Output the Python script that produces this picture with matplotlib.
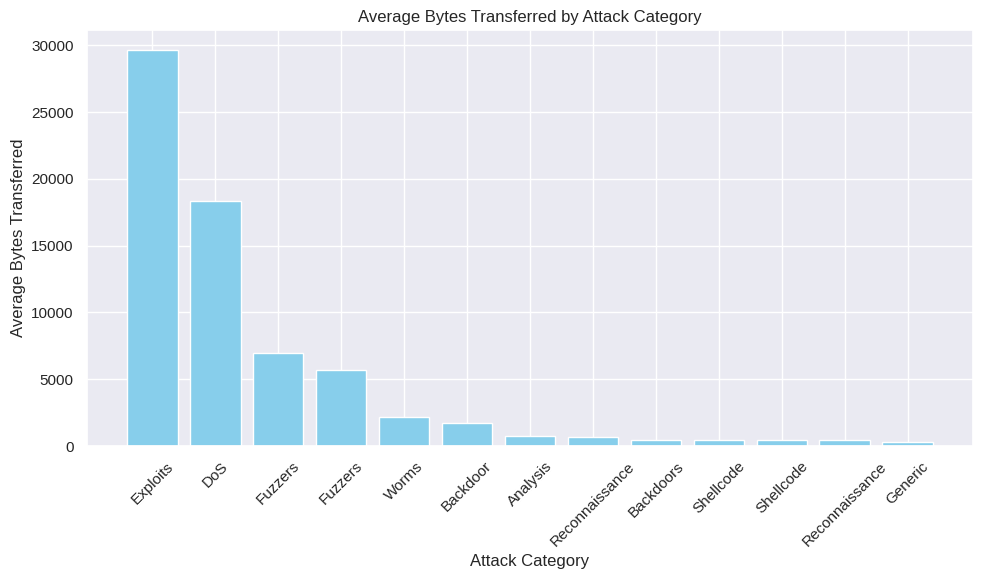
import matplotlib.pyplot as plt
import seaborn as sns

categories = ['Exploits', 'DoS', 'Fuzzers', 'Fuzzers', 'Worms', 'Backdoor', 'Analysis',
              'Reconnaissance', 'Backdoors', 'Shellcode', 'Shellcode', 'Reconnaissance', 'Generic']
avg_bytes = [29650, 18320, 7000, 5720, 2180, 1700, 720, 640, 420, 420, 420, 420, 270]

sns.set_theme(style='darkgrid')
plt.rcParams['font.family'] = ['Liberation Sans', 'DejaVu Sans']

fig = plt.figure(figsize=(9.84, 5.84), dpi=100)
ax = fig.add_subplot()
positions = range(len(categories))
ax.bar(positions, avg_bytes, color='skyblue')
ax.set_xticks(list(positions))
ax.set_xticklabels(categories, rotation=45)
ax.set_title('Average Bytes Transferred by Attack Category')
ax.set_xlabel('Attack Category')
ax.set_ylabel('Average Bytes Transferred')
fig.subplots_adjust(left=0.0884, right=0.9888, top=0.948, bottom=0.2363)
plt.savefig('out.png')
plt.close('all')
